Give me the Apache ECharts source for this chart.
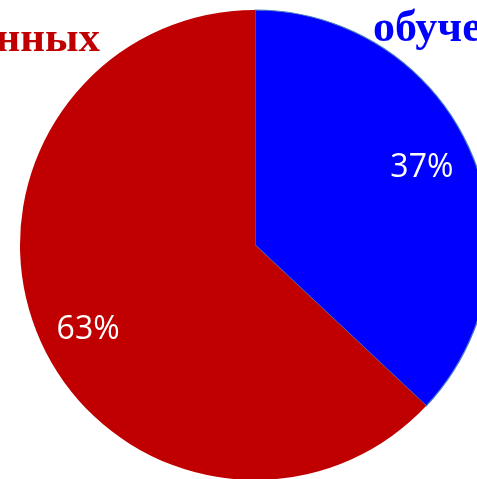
<!DOCTYPE html>
<html>
<head>
<meta charset="utf-8">
<script src="https://cdn.jsdelivr.net/npm/echarts@6/dist/echarts.min.js"></script>
<style>
html,body{margin:0;padding:0;background:#fff;}
#chart{width:477px;height:479px;}
</style>
</head>
<body>
<div id="chart"></div>
<script>
const categories = ['обучающихся', 'других'];
const values = [37, 63];
const colors = ['#0000FF', '#C00000'];
const leftTitle = 'нных';
const rightTitle = 'обуче';

const chart = echarts.init(document.getElementById('chart'), null, {renderer: 'canvas'});
const data = categories.map((c, i) => ({
  name: c,
  value: values[i],
  itemStyle: {color: colors[i], borderColor: i === 0 ? '#4a7ebb' : colors[i], borderWidth: i === 0 ? 1.2 : 0}
}));
chart.setOption({
  animation: false,
  series: [
    {
      type: 'pie',
      center: [255, 245],
      radius: [0, 235],
      startAngle: 90,
      clockwise: true,
      silent: true,
      label: {show: false},
      labelLine: {show: false},
      data: data
    },
    {
      type: 'pie',
      center: [255, 245],
      radius: [130, 235],
      startAngle: 92.5,
      clockwise: true,
      silent: true,
      itemStyle: {color: 'transparent', borderWidth: 0},
      label: {
        show: true,
        position: 'inside',
        formatter: p => p.value + '%',
        color: '#ffffff',
        fontSize: 32,
        fontFamily: 'Open Sans',
        offset: [0, 4]
      },
      labelLine: {show: false},
      data: categories.map((c, i) => ({name: c, value: values[i]}))
    }
  ],
  graphic: [
    {
      type: 'text', right: 377, top: 18,
      style: {text: leftTitle, fill: '#C00000', font: 'bold 43px "Liberation Serif"'}
    },
    {
      type: 'text', left: 373, top: 8,
      style: {text: rightTitle, fill: '#0000FF', font: 'bold 44px "Liberation Serif"'}
    }
  ]
});
</script>
</body>
</html>
